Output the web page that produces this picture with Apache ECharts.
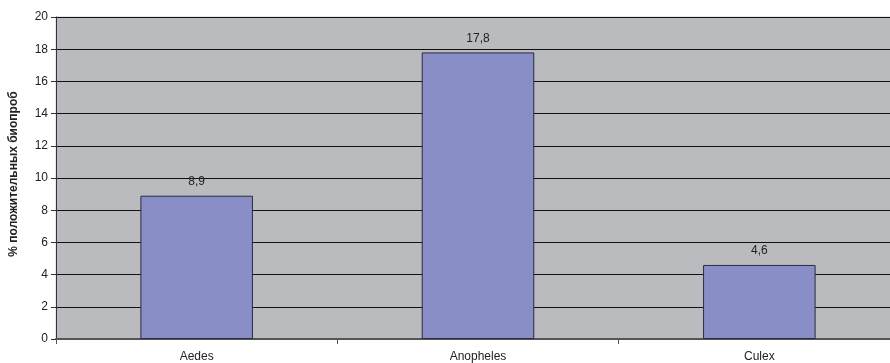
<!DOCTYPE html>
<html>
<head>
<meta charset="utf-8">
<script src="https://cdn.jsdelivr.net/npm/echarts@6/dist/echarts.min.js"></script>
<style>
html,body{margin:0;padding:0;background:#fff;overflow:hidden;}
#chart{width:900px;height:363px;}
</style>
</head>
<body>
<div id="chart"></div>
<script>
// Genera of mosquitoes and share of positive bioassays, %
const categories = ['Aedes', 'Anopheles', 'Culex'];
const positiveShare = [8.9, 17.8, 4.6];
const yTicks = { min: 0, max: 20, interval: 2 };

const chart = echarts.init(document.getElementById('chart'));
chart.setOption({
  animation: false,
  textStyle: { fontFamily: 'Liberation Sans, Arial, sans-serif' },
  grid: { left: 54, right: 0, top: 17, bottom: 24, show: true, backgroundColor: '#BABBBE', borderColor: '#D0D0D2', borderWidth: 1 },
  xAxis: {
    type: 'category',
    data: categories,
    axisLine: { lineStyle: { color: '#555', width: 2 } },
    axisTick: { show: true, length: 5, lineStyle: { color: '#555' } },
    axisLabel: { color: '#222', fontSize: 12, margin: 12 }
  },
  yAxis: {
    type: 'value',
    min: yTicks.min, max: yTicks.max, interval: yTicks.interval,
    name: '% положительных биопроб',
    nameLocation: 'middle',
    nameGap: 36,
    nameTextStyle: { fontWeight: 'bold', fontSize: 12, color: '#222', padding: [0, 0, 0, 8] },
    axisLine: { show: true, lineStyle: { color: '#333', width: 1 } },
    axisTick: { show: true, length: 5, inside: false, lineStyle: { color: '#333' } },
    axisLabel: { color: '#222', fontSize: 12, margin: 8 },
    splitLine: { show: true, lineStyle: { color: '#111', width: 1 } }
  },
  series: [{
    type: 'bar',
    data: positiveShare,
    barWidth: '40%',
    itemStyle: { color: '#8A8EC6', borderColor: '#2A2A40', borderWidth: 1 },
    label: {
      show: true, position: 'top', distance: 8,
      color: '#222', fontSize: 12,
      formatter: p => String(p.value).replace('.', ',')
    }
  }]
});
</script>
</body>
</html>
